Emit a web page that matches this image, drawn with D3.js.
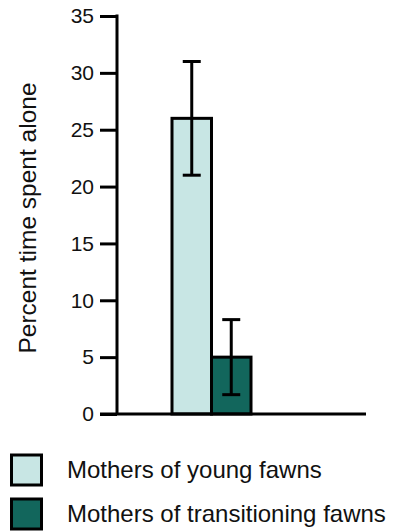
<!DOCTYPE html>
<html>
<head>
<meta charset="utf-8">
<script src="https://cdn.jsdelivr.net/npm/d3@7"></script>
<style>
  body { margin: 0; background: #fff; }
  svg { display: block; font-family: "Liberation Sans", Arial, Helvetica, sans-serif; }
</style>
</head>
<body>
<svg id="chart" width="403" height="532"></svg>
<script>
// data
var groups = ["Mothers of young fawns", "Mothers of transitioning fawns"];
var means = [26, 5];
var errs = [5, 3.3];
var colors = ["#c8e6e4", "#12665c"];
var yTicks = [0, 5, 10, 15, 20, 25, 30, 35];

var svg = d3.select("#chart");

// plot frame (don't name these top/left, window.top is read only)
var pLeft = 117, pRight = 366, pTop = 16, pBottom = 414;

var y = d3.scaleLinear().domain([0, 35]).range([pBottom, pTop]);
var x = d3.scaleBand().domain(groups).range([172, 251]).padding(0);

// y axis
var yAxis = d3.axisLeft(y).tickValues(yTicks).tickSize(17).tickPadding(6);
var gy = svg.append("g").attr("transform", "translate(" + pLeft + ",0)").call(yAxis);
gy.select(".domain").remove();
gy.selectAll(".tick line").attr("stroke", "#000").attr("stroke-width", 3);
gy.selectAll(".tick text").attr("font-size", 21).attr("fill", "#111")
  .attr("font-family", "Liberation Sans, Arial, sans-serif");
gy.append("line").attr("x1", 0).attr("x2", 0).attr("y1", pTop - 1.5).attr("y2", pBottom)
  .attr("stroke", "#000").attr("stroke-width", 3);

// bars
svg.selectAll("rect.bar")
  .data(groups)
  .enter()
  .append("rect")
  .attr("class", "bar")
  .attr("x", function(d){ return x(d); })
  .attr("width", x.bandwidth())
  .attr("y", function(d, i){ return y(means[i]); })
  .attr("height", function(d, i){ return pBottom - y(means[i]); })
  .attr("fill", function(d, i){ return colors[i]; })
  .attr("stroke", "#000")
  .attr("stroke-width", 3);

// x axis baseline
svg.append("line").attr("x1", 100).attr("x2", pRight).attr("y1", pBottom).attr("y2", pBottom)
  .attr("stroke", "#000").attr("stroke-width", 3);

// error bars
var capW = 9;
var eb = svg.selectAll("g.err").data(groups).enter().append("g").attr("class", "err");
eb.append("line")
  .attr("x1", function(d){ return x(d) + x.bandwidth()/2; })
  .attr("x2", function(d){ return x(d) + x.bandwidth()/2; })
  .attr("y1", function(d, i){ return y(means[i] + errs[i]); })
  .attr("y2", function(d, i){ return y(means[i] - errs[i]); });
eb.append("line")
  .attr("x1", function(d){ return x(d) + x.bandwidth()/2 - capW; })
  .attr("x2", function(d){ return x(d) + x.bandwidth()/2 + capW; })
  .attr("y1", function(d, i){ return y(means[i] + errs[i]); })
  .attr("y2", function(d, i){ return y(means[i] + errs[i]); });
eb.append("line")
  .attr("x1", function(d){ return x(d) + x.bandwidth()/2 - capW; })
  .attr("x2", function(d){ return x(d) + x.bandwidth()/2 + capW; })
  .attr("y1", function(d, i){ return y(means[i] - errs[i]); })
  .attr("y2", function(d, i){ return y(means[i] - errs[i]); });
eb.selectAll("line").attr("stroke", "#000").attr("stroke-width", 3);

// y label
svg.append("text")
  .attr("transform", "translate(36,218) rotate(-90)")
  .attr("text-anchor", "middle")
  .attr("font-size", 24.5)
  .attr("fill", "#111")
  .text("Percent time spent alone");

// legend
var lg = svg.selectAll("g.leg").data(groups).enter().append("g").attr("class", "leg")
  .attr("transform", function(d, i){ return "translate(0," + (455 + i * 44) + ")"; });
lg.append("rect").attr("x", 11.5).attr("y", 0).attr("width", 30).attr("height", 30)
  .attr("fill", function(d, i){ return colors[i]; })
  .attr("stroke", "#000").attr("stroke-width", 3);
lg.append("text").attr("x", 67).attr("y", 23).attr("font-size", 24).attr("fill", "#111")
  .text(function(d){ return d; });
</script>
</body>
</html>
